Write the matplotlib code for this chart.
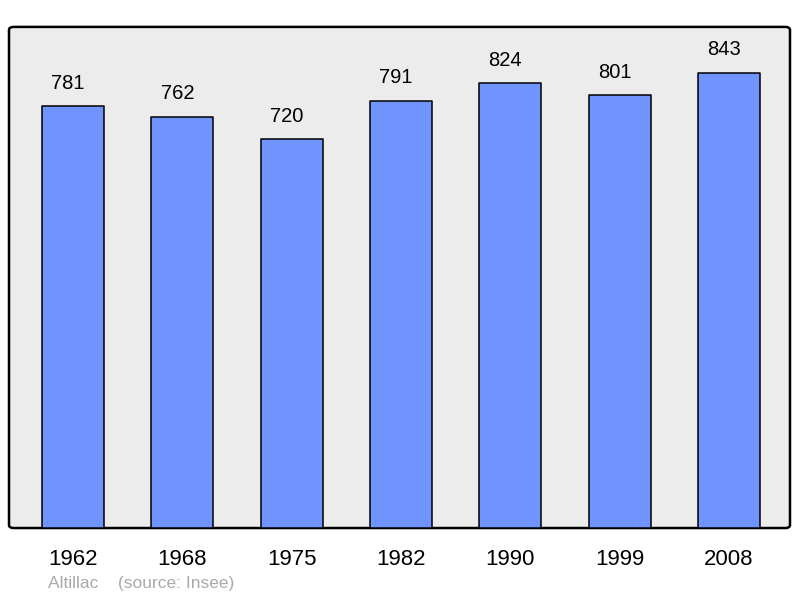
import matplotlib.pyplot as plt
from matplotlib.patches import FancyBboxPatch

# population data
years = ['1962', '1968', '1975', '1982', '1990', '1999', '2008']
population = [781, 762, 720, 791, 824, 801, 843]

plt.rcParams['font.family'] = ['Liberation Sans', 'DejaVu Sans']

fig = plt.figure(figsize=(8, 5.98), dpi=100)
ax = fig.add_axes([0.01125, 0.117, 0.97625, 0.838])
ax.set_facecolor('none')

# rounded grey frame behind the bars
frame = FancyBboxPatch((0, 0), 1, 1, boxstyle='round,pad=0,rounding_size=0.006',
                       transform=ax.transAxes, facecolor='#ececec',
                       edgecolor='black', linewidth=1.8, zorder=0, clip_on=False)
ax.add_patch(frame)

x = range(len(years))
bars = ax.bar(x, population, width=0.567, color='#7094ff', edgecolor='black',
              linewidth=1.1, zorder=2)
for b in bars:
    b.set_joinstyle('round')

# value labels, sitting a bit left of the bar centre like the original
for i, v in enumerate(population):
    ax.annotate(str(v), (i, v), xytext=(-3.6, 16.5), textcoords='offset points',
                ha='center', va='center', fontsize=14.5)

ax.set_xlim(-0.585, 6.557)
ax.set_ylim(0, 928)
ax.set_xticks(list(x))
ax.set_xticklabels(years, fontsize=16)
ax.tick_params(axis='x', length=0, pad=15)
ax.set_yticks([])
for s in ax.spines.values():
    s.set_visible(False)

fig.text(0.06, 0.017, 'Altillac    (source: Insee)', color='#aaaaaa', fontsize=12.5)

fig.savefig('out.png', dpi=100)
